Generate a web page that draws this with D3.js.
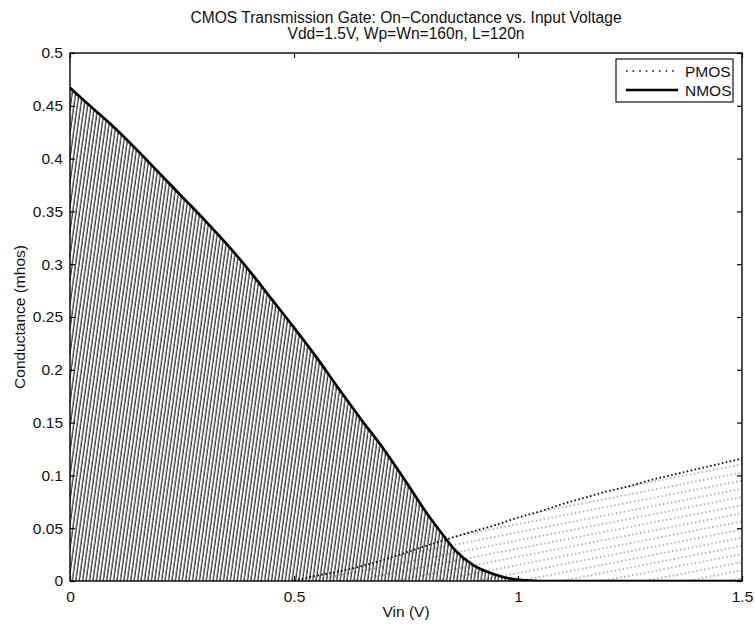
<!DOCTYPE html>
<html>
<head>
<meta charset="utf-8">
<script src="https://cdn.jsdelivr.net/npm/d3@7"></script>
<style>
  body { margin: 0; background: #fff; }
  svg text { font-family: "Liberation Sans", Arial, Helvetica, sans-serif; fill: #111; }
</style>
</head>
<body>
<div id="chart"></div>
<script>
// values
var vin = [0, 0.05, 0.1, 0.15, 0.2, 0.25, 0.3, 0.35, 0.4, 0.45, 0.5, 0.55, 0.6, 0.65, 0.7, 0.75,
           0.8, 0.83, 0.86, 0.9, 0.95, 1.0, 1.05, 1.1, 1.15, 1.2, 1.25, 1.3, 1.35, 1.4, 1.45, 1.5];
var nmos = [0.467, 0.448, 0.429, 0.408, 0.386, 0.364, 0.342, 0.319, 0.294, 0.267, 0.240, 0.212,
            0.182, 0.153, 0.125, 0.094, 0.062, 0.045, 0.029, 0.015, 0.006, 0.001, 0, 0, 0, 0,
            0, 0, 0, 0, 0, 0];
var pmos = [0, 0, 0, 0, 0, 0, 0, 0, 0, 0, 0, 0.005, 0.009, 0.014, 0.020, 0.027,
            0.034, 0.038, 0.042, 0.047, 0.053, 0.060, 0.066, 0.073, 0.079, 0.085, 0.090,
            0.096, 0.101, 0.106, 0.111, 0.116];
var xTicks = [0, 0.5, 1, 1.5];
var yTicks = [0, 0.05, 0.1, 0.15, 0.2, 0.25, 0.3, 0.35, 0.4, 0.45, 0.5];
var titleLines = ["CMOS Transmission Gate: On\u2212Conductance vs. Input Voltage",
                  "Vdd=1.5V, Wp=Wn=160n, L=120n"];
var legendNames = ["PMOS", "NMOS"];

var width = 755, height = 628;
var margin = {top: 53, right: 13, bottom: 47, left: 70};
var plotW = width - margin.left - margin.right;
var plotH = height - margin.top - margin.bottom;

var svg = d3.select("#chart").append("svg")
    .attr("width", width)
    .attr("height", height);

var defs = svg.append("defs");

// dense diagonal hatch for the NMOS area
var hatch = defs.append("pattern")
    .attr("id", "hatchN")
    .attr("patternUnits", "userSpaceOnUse")
    .attr("width", 3.4)
    .attr("height", 10)
    .attr("patternTransform", "rotate(8)");
hatch.append("line")
    .attr("x1", 1).attr("y1", -1).attr("x2", 1).attr("y2", 11)
    .style("stroke", "#111")
    .style("stroke-width", 1.1);

// faint dotted lines for the PMOS area
var dots = defs.append("pattern")
    .attr("id", "dotsP")
    .attr("patternUnits", "userSpaceOnUse")
    .attr("width", 40)
    .attr("height", 8)
    .attr("patternTransform", "rotate(-11)");
dots.append("line")
    .attr("x1", 0).attr("y1", 4).attr("x2", 40).attr("y2", 4)
    .style("stroke", "#555")
    .style("stroke-width", 1.2)
    .style("stroke-dasharray", "1.3,2.7");

defs.append("clipPath").attr("id", "plotClip")
    .append("rect").attr("width", plotW).attr("height", plotH);

var g = svg.append("g")
    .attr("transform", "translate(" + margin.left + "," + margin.top + ")");

var x = d3.scaleLinear().domain([0, 1.5]).range([0, plotW]);
var y = d3.scaleLinear().domain([0, 0.5]).range([plotH, 0]);

var rows = vin.map(function(v, i){ return {v: v, n: nmos[i], p: pmos[i]}; });
var rowsP = rows.filter(function(d){ return d.v >= 0.5; });

var areaP = d3.area().x(function(d){ return x(d.v); }).y0(y(0)).y1(function(d){ return y(d.p); })
    .curve(d3.curveMonotoneX);
var areaN = d3.area().x(function(d){ return x(d.v); }).y0(y(0)).y1(function(d){ return y(d.n); })
    .curve(d3.curveMonotoneX);
var lineP = d3.line().x(function(d){ return x(d.v); }).y(function(d){ return y(d.p); })
    .curve(d3.curveMonotoneX);
var lineN = d3.line().x(function(d){ return x(d.v); }).y(function(d){ return y(d.n); })
    .curve(d3.curveMonotoneX);

var plot = g.append("g").attr("clip-path", "url(#plotClip)");

plot.append("path").datum(rowsP)
    .attr("d", areaP)
    .style("fill", "url(#dotsP)");

plot.append("path").datum(rows)
    .attr("d", areaN)
    .style("fill", "url(#hatchN)");

plot.append("path").datum(rowsP)
    .attr("d", lineP)
    .style("fill", "none")
    .style("stroke", "#111")
    .style("stroke-width", 1.9)
    .style("stroke-dasharray", "1.6,2.4");

plot.append("path").datum(rows)
    .attr("d", lineN)
    .style("fill", "none")
    .style("stroke", "#000")
    .style("stroke-width", 2.7)
    .style("stroke-linejoin", "round");

// axes, matlab style: box with inward ticks on every side
var axisStyle = function(sel){
    sel.select(".domain").remove();
    sel.selectAll(".tick line").style("stroke", "#000").style("stroke-width", 1.2);
    sel.selectAll(".tick text").style("font-size", "15.5px");
};

g.append("g").attr("transform", "translate(0," + plotH + ")")
    .call(d3.axisBottom(x).tickValues(xTicks).tickSize(-5).tickPadding(10).tickFormat(d3.format("")))
    .call(axisStyle);
g.append("g")
    .call(d3.axisTop(x).tickValues(xTicks).tickSize(-5).tickFormat(""))
    .call(axisStyle);
g.append("g")
    .call(d3.axisLeft(y).tickValues(yTicks).tickSize(-5).tickPadding(7).tickFormat(d3.format("")))
    .call(axisStyle);
g.append("g").attr("transform", "translate(" + plotW + ",0)")
    .call(d3.axisRight(y).tickValues(yTicks).tickSize(-5).tickFormat(""))
    .call(axisStyle);

g.selectAll(".tick text").attr("font-family", null);

g.append("rect")
    .attr("width", plotW).attr("height", plotH)
    .style("fill", "none")
    .style("stroke", "#000")
    .style("stroke-width", 1.4);

// titles and labels
svg.selectAll(".title").data(titleLines).enter().append("text")
    .attr("class", "title")
    .attr("x", margin.left + plotW / 2)
    .attr("y", function(d, i){ return 23 + i * 16.3; })
    .attr("text-anchor", "middle")
    .style("font-size", "15.6px")
    .text(function(d){ return d; });

svg.append("text")
    .attr("x", margin.left + plotW / 2)
    .attr("y", 617)
    .attr("text-anchor", "middle")
    .style("font-size", "15.5px")
    .text("Vin (V)");

svg.append("text")
    .attr("transform", "translate(25," + (margin.top + plotH / 2) + ") rotate(-90)")
    .attr("text-anchor", "middle")
    .style("font-size", "15.5px")
    .text("Conductance (mhos)");

// legend
var legend = svg.append("g").attr("transform", "translate(616,59)");
legend.append("rect")
    .attr("width", 117).attr("height", 43)
    .style("fill", "#fff")
    .style("stroke", "#000")
    .style("stroke-width", 1.1);

var item = legend.selectAll(".item").data(legendNames).enter().append("g")
    .attr("class", "item")
    .attr("transform", function(d, i){ return "translate(0," + (12 + i * 19) + ")"; });
item.append("line")
    .attr("x1", 10).attr("x2", 62).attr("y1", 0).attr("y2", 0)
    .style("stroke", "#000")
    .style("stroke-width", function(d, i){ return i == 0 ? 1.5 : 2.7; })
    .style("stroke-dasharray", function(d, i){ return i == 0 ? "1.5,5.1" : null; });
item.append("text")
    .attr("x", 69).attr("y", 5.5)
    .style("font-size", "15.5px")
    .text(function(d){ return d; });
</script>
</body>
</html>
